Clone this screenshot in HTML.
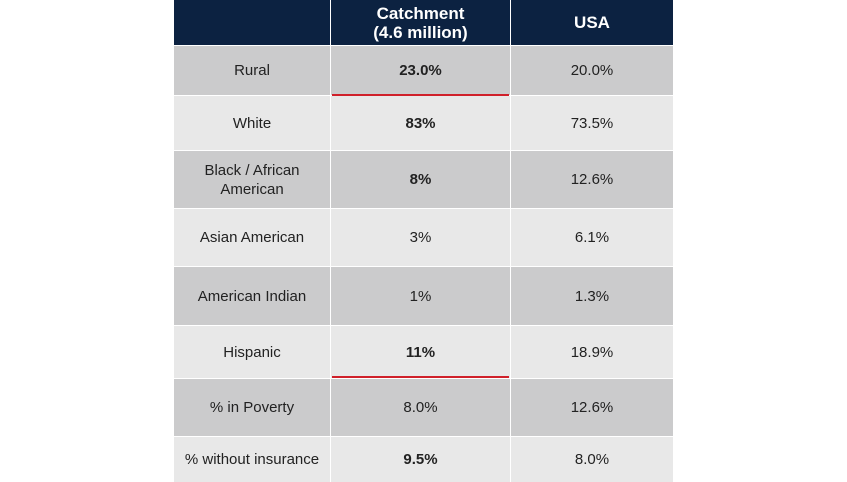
<!DOCTYPE html>
<html><head><style>
body{margin:0;width:847px;height:482px;background:#fff;position:relative;overflow:hidden;font-family:"Liberation Sans",Arial,sans-serif;}
.c{position:absolute;display:flex;align-items:center;justify-content:center;text-align:center;font-size:15px;color:#222;line-height:19px;box-sizing:border-box;}
.h{background:#0c2241;color:#fff;font-weight:bold;font-size:17px;line-height:19px;}
.d{background:#cbcbcc}.l{background:#e8e8e8}
.b{font-weight:bold}
.red{position:absolute;height:2px;background:#d0202a;left:332px;width:177px;}
</style></head><body>
<div id="t"></div>
<script>
var rows=[["Rural","23.0%","20.0%",1],["White","83%","73.5%",1],["Black / African<br>American","8%","12.6%",1],["Asian American","3%","6.1%",0],["American Indian","1%","1.3%",0],["Hispanic","11%","18.9%",1],["% in Poverty","8.0%","12.6%",0],["% without insurance","9.5%","8.0%",1]];
var ys=[45,95,150,208,266,325,378,436,482];
var xs=[174,330,510,673];
var h='';
function cell(x0,x1,y0,y1,cls,txt){h+='<div class="c '+cls+'" style="left:'+x0+'px;top:'+y0+'px;width:'+(x1-x0)+'px;height:'+(y1-y0)+'px">'+txt+'</div>';}
cell(174,330,0,45,'h','');cell(331,510,0,45,'h','Catchment<br>(4.6 million)');cell(511,673,0,45,'h','USA');
rows.forEach(function(r,i){var cl=i%2?'l':'d';var y0=ys[i]+(i?1:1),y1=ys[i+1];
cell(174,330,y0,y1,cl,r[0]);cell(331,510,y0,y1,cl+(r[3]?' b':''),r[1]);cell(511,673,y0,y1,cl,r[2]);});
h+='<div class="red" style="top:94px"></div><div class="red" style="top:376px"></div>';
document.getElementById('t').innerHTML=h;
</script>
</body></html>
